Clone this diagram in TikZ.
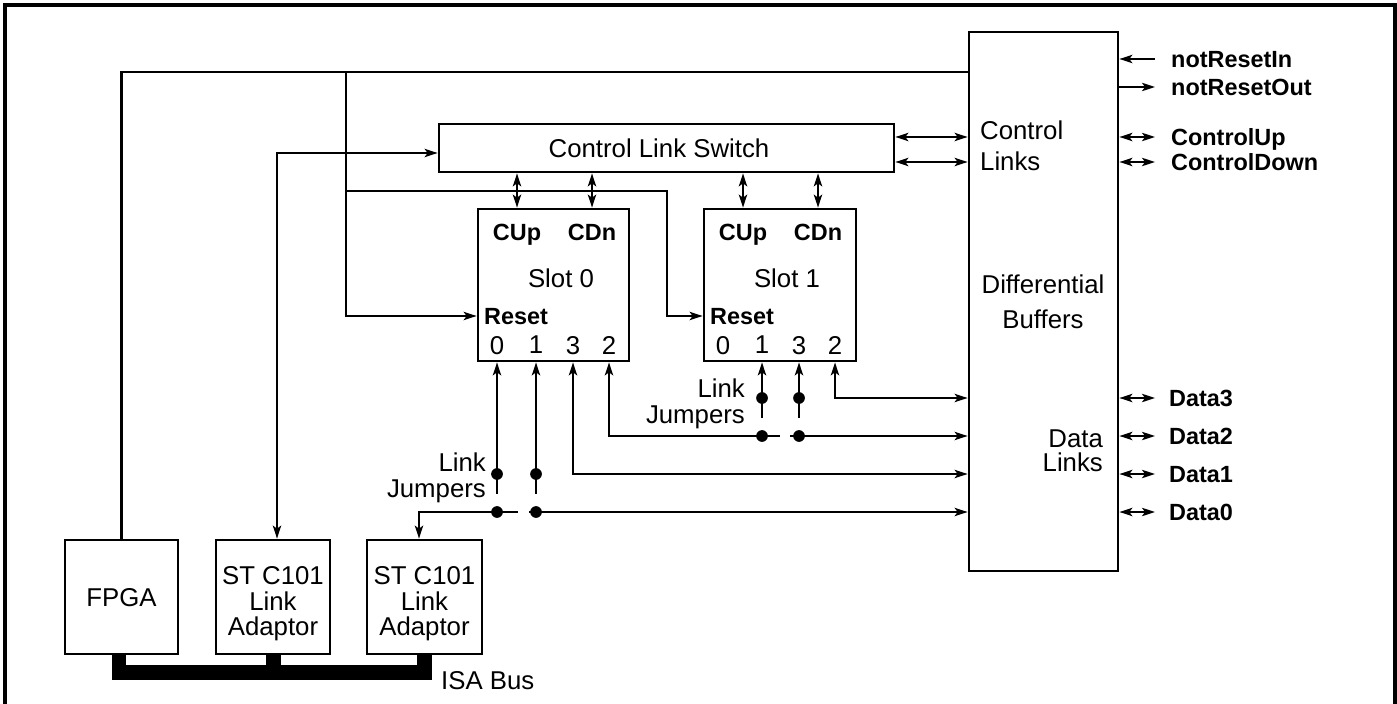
\documentclass[tikz,border=0pt]{standalone}
\usepackage{fontspec}
\setmainfont{Liberation Sans}
\usetikzlibrary{arrows.meta, fit, calc}

\begin{document}
\begin{tikzpicture}[x=0.03cm, y=-0.03cm, line width=2pt,
    >={Stealth[length=11pt, width=7pt, inset=2.5pt]},
    box/.style={draw, line width=2.3pt, inner sep=0pt},
    txt/.style={font=\fontsize{22}{#1}\selectfont, inner sep=0pt, text depth=0pt},
    txt/.default=26,
    lab/.style={font=\fontsize{20}{24}\selectfont\bfseries, inner sep=0pt, text depth=0pt},
    jdot/.style={circle, fill, inner sep=0pt, minimum size=10pt},
    bus/.style={line width=12.8pt}]
  \useasboundingbox (0,0) rectangle (1397,704);
  \draw[line width=2.6pt] (5,5) rectangle (1395,712);

  % boxes
  \node[box, fit={(969,32) (1118,571)}] (buf) {};
  \node[box, fit={(439,124) (894,172)}] (cls) {};
  \node[box, fit={(478,209) (629,361)}] (slot0) {};
  \node[box, fit={(704,209) (856,361)}] (slot1) {};
  \node[box, fit={(65,540) (178,654)}] (fpga) {};
  \node[box, fit={(216,540) (330,654)}] (ada1) {};
  \node[box, fit={(367,540) (482,654)}] (ada2) {};

  \node[txt] (clsname) at (659,148) {Control Link Switch};
  \node[txt=26.5, align=left, anchor=west] (ctrl) at (979,146) {Control\\Links};
  \node[txt=30, align=center] (diff) at (1043,302) {Differential\\Buffers};
  \node[txt=20.5, align=right, anchor=east] (dlinks) at (1104,451) {Data\\Links};
  \node[txt] (fpganame) at (fpga.center) {FPGA};
  \node[txt=21.8, align=center] (ada1name) at ($(ada1.center)+(0,4)$) {ST C101\\Link\\Adaptor};
  \node[txt=21.8, align=center] (ada2name) at ($(ada2.center)+(0,4)$) {ST C101\\Link\\Adaptor};

  % slots
  \foreach \s/\x in {0/478, 1/704} {
    \node[lab] (cup\s) at (\x+39,232) {CUp};
    \node[lab] (cdn\s) at (\x+114,232) {CDn};
    \node[txt] (name\s) at (\x+83,278) {Slot \s};
    \node[lab, anchor=west] (rst\s) at (\x+5,316) {Reset};
    \foreach \p/\dx in {0/19, 1/58, 3/95, 2/131}
      \node[txt] (s\s p\p) at (\x+\dx,345) {\p};
  }

  % right side signals
  \node[lab, anchor=west] (nrin) at (1170,59) {notResetIn};
  \node[lab, anchor=west] (nrout) at (1170,87) {notResetOut};
  \node[lab, anchor=west] (ctlup) at (1170,137) {ControlUp};
  \node[lab, anchor=west] (ctldn) at (1170,162) {ControlDown};
  \draw[<-] (buf.east |- nrin) -- ($(nrin.west)+(-15,0)$);
  \draw[->] (buf.east |- nrout) -- ($(nrout.west)+(-15,0)$);
  \draw[<->] (buf.east |- ctlup) -- ($(ctlup.west)+(-15,0)$);
  \draw[<->] (buf.east |- ctldn) -- ($(ctldn.west)+(-15,0)$);
  \foreach \d/\y in {3/398, 2/436, 1/474, 0/512} {
    \node[lab, anchor=west] (data\d) at (1168,\y) {Data\d};
    \draw[<->] (buf.east |- data\d) -- ($(data\d.west)+(-13,0)$);
  }

  % reset lines
  \coordinate (jr) at (346,72);
  \coordinate (jk) at (346,191);
  \coordinate (bend) at (667,191);
  \draw (fpga.north) |- (jr) -- (jr -| buf.west);
  \draw[->] (jr) |- (slot0.west |- rst0);
  \draw[->] (jk) -- (bend) |- (slot1.west |- rst1);

  % control links
  \coordinate (swin) at (277,153);
  \draw[<->] (swin |- ada1.north) -- (swin) -- (swin -| cls.west);
  \draw[<->] (cls.east |- ctlup) -- (buf.west |- ctlup);
  \draw[<->] (cls.east |- ctldn) -- (buf.west |- ctldn);
  \foreach \s in {0,1} {
    \draw[<->] (cls.south -| cup\s) -- (slot\s.north -| cup\s);
    \draw[<->] (cls.south -| cdn\s) -- (slot\s.north -| cdn\s);
  }

  % link jumpers
  \node[jdot] (ja0) at (s0p0 |- data1) {};
  \node[jdot] (ja1) at (s0p1 |- data1) {};
  \node[jdot] (jb0) at (s0p0 |- data0) {};
  \node[jdot] (jb1) at (s0p1 |- data0) {};
  \node[jdot] (jc0) at (s1p1 |- data3) {};
  \node[jdot] (jc1) at (s1p3 |- data3) {};
  \node[jdot] (jd0) at (s1p1 |- data2) {};
  \node[jdot] (jd1) at (s1p3 |- data2) {};
  \node[txt=22, align=right, anchor=east] (jmp1) at (746,401) {Link\\Jumpers};
  \node[txt=22, align=right, anchor=east] (jmp0) at (487,475) {Link\\Jumpers};

  \foreach \j/\p/\s in {ja0/s0p0/0, ja1/s0p1/0, jc0/s1p1/1, jc1/s1p3/1}
    \draw[<-] (\p |- slot\s.south) -- (\j.center) -- ++(0,20);

  % data links
  \coordinate (a2in) at (419,512);
  \draw[<-] (ada2.north -| a2in) -- (a2in) -- (jb0.center) -- ++(21,0);
  \draw[->] ($(jb1.center)+(-7,0)$) -- (buf.west |- jb1);
  \draw[<-] (s0p2 |- slot0.south) |- (jd0.center) -- ++(18,0);
  \draw[->] ($(jd1.center)+(-9,0)$) -- (buf.west |- jd1);
  \draw[<->] (s0p3 |- slot0.south) |- (buf.west |- data1);
  \draw[<->] (s1p2 |- slot1.south) |- (buf.west |- data3);

  % ISA bus
  \coordinate (busl) at (119,672);
  \coordinate (busr) at (424,672);
  \draw[bus] (fpga.south -| busl) -- (busl) -- (busr) -- (ada2.south -| busr);
  \draw[bus] (ada1.south) -- (ada1.south |- busl);
  \node[txt, anchor=west] (isa) at (440,680) {ISA Bus};
\end{tikzpicture}
\end{document}
